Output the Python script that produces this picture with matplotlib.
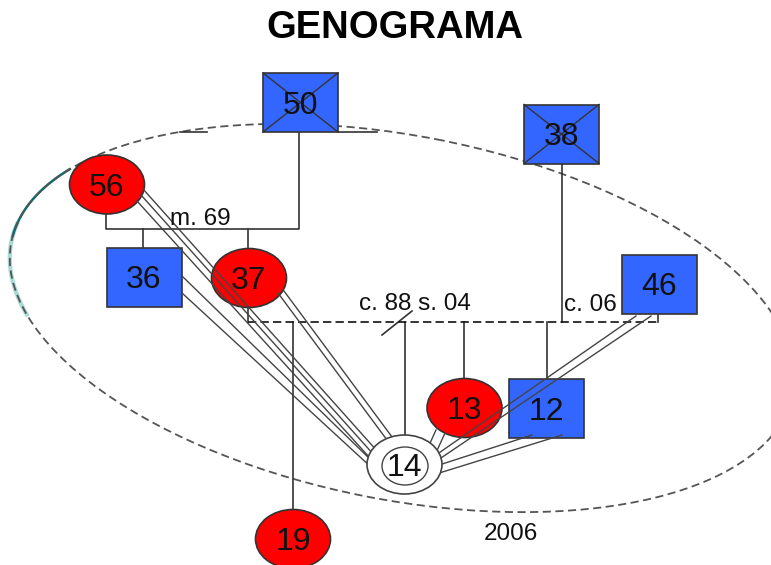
import numpy as np
import matplotlib
matplotlib.use('Agg')
import matplotlib.pyplot as plt
from matplotlib.patches import Ellipse, Rectangle

plt.rcParams['font.family'] = ['Liberation Sans', 'DejaVu Sans']

# nodes of the genogram (pixel coords of the original picture, y down)
node_labels = ['50', '38', '56', '36', '37', '46', '13', '12', '14', '19']
node_kind = ['male', 'male', 'female', 'male', 'female', 'male', 'female', 'male', 'index', 'female']
node_x = [300.5, 561.5, 107, 144, 249, 659, 464.5, 546.5, 404.5, 293]
node_y = [102.5, 134, 184.5, 277, 278, 284, 408, 408.5, 464.5, 539]
node_dead = [True, True, False, False, False, False, False, False, False, False]

# family connectors (solid polylines)
family_lines = [
    [(106, 214), (106, 229), (299, 229), (299, 132)],
    [(143, 229), (143, 247)],
    [(248, 229), (248, 248)],
    [(248, 307), (248, 322)],
    [(658, 313), (658, 322)],
    [(562, 164), (562, 322)],
    [(405, 322), (405, 436)],
    [(464, 322), (464, 379)],
    [(547, 322), (547, 379)],
    [(293, 322), (293, 510)],
    [(382, 335), (412, 311)],
    [(180, 132), (207, 132)],
    [(338, 132), (377, 132)],
]
cohab_line = [(248, 322), (658, 322)]

# close-relationship lines towards the index person
bond_lines = [
    (143, 189, 378, 452), (141, 195, 374, 455), (137, 201, 370, 458),   # 56
    (182, 276, 372, 461), (182, 293, 372, 468),                         # 36
    (278, 293, 390, 444), (284, 291, 395, 441),                         # 37
    (436, 430, 426, 452), (445, 433, 435, 455),                         # 13
    (636, 316, 436, 455), (651, 316, 438, 460),                         # 46
    (532, 435, 436, 466), (562, 435, 436, 474),                         # 12
]

annotations = [('m. 69', 170, 225), ('c. 88 s. 04', 359, 310), ('c. 06', 564, 311), ('2006', 484, 540)]

BLUE = '#3366ff'
RED = '#ff0000'
EDGE = '#333333'
W, H = 75, 59

fig = plt.figure(figsize=(7.71, 5.65), dpi=100)
ax = fig.add_axes([0, 0, 1, 1])
ax.set_xlim(0, 771)
ax.set_ylim(565, 0)
ax.axis('off')

fig.text(0.5125, 1 - 38 / 565, 'GENOGRAMA', ha='center', va='baseline',
         fontsize=27.5, fontweight='bold')

# household boundary (dashed ellipse) + scanner smudge on the left
cx, cy, a, b, th = 402, 318, 398, 182, np.radians(11)
ax.add_patch(Ellipse((cx, cy), 2 * a, 2 * b, angle=11, fill=False, ec='#555555',
                     lw=1.3, ls=(0, (4.5, 2.5)), zorder=1))
for t0, t1, col, lw in [(158, 186, '#a8dad6', 3), (182, 207, '#0d6b6b', 1.8)]:
    t = np.radians(np.linspace(t0, t1, 40))
    ex = cx + a * np.cos(t) * np.cos(th) - b * np.sin(t) * np.sin(th)
    ey = cy + a * np.cos(t) * np.sin(th) + b * np.sin(t) * np.cos(th)
    ax.plot(ex, ey, color=col, lw=lw, zorder=0.5)

for pts in family_lines:
    xs, ys = zip(*pts)
    ax.plot(xs, ys, color=EDGE, lw=1.2, zorder=2)
xs, ys = zip(*cohab_line)
ax.plot(xs, ys, color='#111111', lw=1.2, ls=(0, (5, 2.5)), zorder=2)

for lab, kind, x, y, dead in zip(node_labels, node_kind, node_x, node_y, node_dead):
    z = 3
    if kind == 'male':
        ax.add_patch(Rectangle((x - W / 2, y - H / 2), W, H, fc=BLUE, ec=EDGE, lw=1.2, zorder=z))
        if dead:
            ax.plot([x - W / 2, x + W / 2], [y - H / 2, y + H / 2], color=EDGE, lw=1, zorder=z)
            ax.plot([x - W / 2, x + W / 2], [y + H / 2, y - H / 2], color=EDGE, lw=1, zorder=z)
    elif kind == 'female':
        ax.add_patch(Ellipse((x, y), W, H, fc=RED, ec=EDGE, lw=1.2, zorder=z))
    else:
        z = 5
        ax.add_patch(Ellipse((x, y), W, H, fc='white', ec='#444444', lw=1.2, zorder=z))
        ax.add_patch(Ellipse((x + 0.5, y + 1.5), 46, 38, fc='white', ec='#444444', lw=1, zorder=z))
    ax.text(x, y + 11, lab, ha='center', va='baseline', fontsize=23, color='#111111', zorder=z + 0.5)

for x0, y0, x1, y1 in bond_lines:
    ax.plot([x0, x1], [y0, y1], color='#444444', lw=1, zorder=4)

for txt, x, y in annotations:
    ax.text(x, y, txt, ha='left', va='baseline', fontsize=17.5, color='#111111', zorder=6)

fig.savefig('out.png', dpi=100, facecolor='white')
